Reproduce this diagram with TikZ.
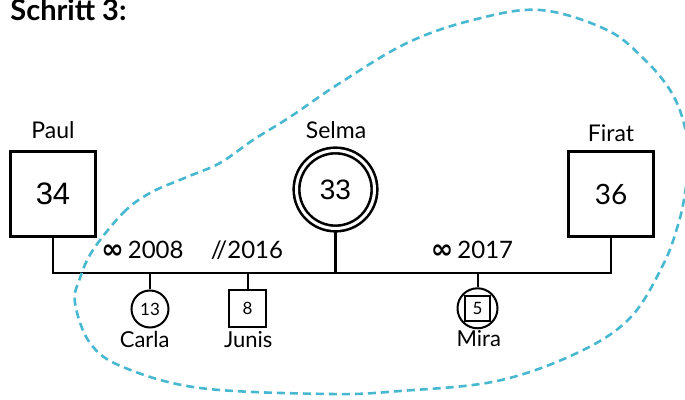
\documentclass[tikz,border=0pt]{standalone}
\usepackage{fontspec}
\setmainfont{Lato}
\newfontfamily\arialfont{Liberation Sans}
\newfontfamily\symfont{DejaVu Sans}
\usetikzlibrary{calc}
\definecolor{cluster}{RGB}{72,184,208}
\newcommand{\marr}{{\symfont\bfseries\fontsize{13.5}{13}\selectfont ∞}\,}
\tikzset{>=latex, person/.style = {draw, line width=1.4pt, inner sep=0pt},
		male/.style = {person, rectangle, minimum size=42.5pt},
		female/.style = {person, circle, double, double distance=1.5pt,
        line width=1.3pt, minimum size=39pt},
		kid/.style = {draw, line width=1pt, inner sep=0pt,
        font=\fontsize{8.5}{10}\selectfont},
		kidm/.style = {kid, rectangle, minimum size=18.5pt},
		kidf/.style = {kid, circle, minimum size=18.5pt},
		pname/.style = {anchor=base, inner sep=0pt,
        font=\fontsize{11.5}{14}\selectfont},
		kname/.style = {anchor=base, inner sep=0pt,
        font=\fontsize{11}{13}\selectfont},
		year/.style = {anchor=base, inner sep=0pt,
        font=\fontsize{12}{14}\selectfont}}

\begin{document}
\begin{tikzpicture}[x=0.5pt,y=-0.5pt]
    \useasboundingbox (0,0) rectangle (685,400);
    \node[anchor=base west, inner sep=0pt, font=\fontsize{14.5}{17}\bfseries] (title) at (10,21) {Schritt 3:};
    % parents
    \node[male, font=\arialfont\fontsize{15.5}{18}\selectfont] (paul) at (53,194) {34};
    \node[female, font=\arialfont\fontsize{14}{17}\selectfont] (selma) at (335.5,189.5) {33};
    \node[male, font=\fontsize{14}{17}\selectfont] (firat) at (611,194) {36};
    \node[pname] (paulname) at (53,139) {Paul};
    \node[pname] (selmaname) at (336,139) {Selma};
    \node[pname] (firatname) at (611,142) {Firat};
    % partnership line
    \coordinate (bar) at (0,273);
    \draw[line width=1.4pt] (paul) -- (paul |- bar) -- (firat |- bar) -- (firat);
    \draw[line width=1.4pt] (selma) -- (selma |- bar);
    \node[year] (m1) at (142.5,259) {\marr 2008};
    \node[year] (m2) at (247,259) {//2016};
    \node[year] (m3) at (472,259) {\marr 2017};
    % children
    \node[kidf] (carla) at (150,309) {13};
    \node[kidm] (junis) at (247.5,308.5) {8};
    \node[kidf, minimum size=20pt] (mira) at (477.5,308.3) {};
    \node[kidm, minimum size=12.7pt] (miraq) at (mira) {5};
    \draw[line width=1pt] (carla) -- (carla |- bar);
    \draw[line width=1pt] (junis) -- (junis |- bar);
    \draw[line width=1pt] (mira) -- (mira |- bar);
    \node[kname] (carlaname) at (144.7,348) {Carla};
    \node[kname] (junisname) at (248.3,348) {Junis};
    \node[kname] (miraname) at (478.8,347) {Mira};
    % system border
    \draw[cluster, line width=1.3pt, dash pattern=on 4pt off 2.5pt]
      plot[smooth cycle, tension=0.6] coordinates {(93,250) (123,213) (150,193)
      (187,177) (220,163) (253,140) (290,117) (340,83) (407,43) (473,20)
      (540,10) (607,30) (645,60) (670,90) (683,120) (689,155) (685,193)
      (678,225) (663,265) (630,318) (577,353) (497,381) (400,391) (330,394)
      (200,388) (123,367) (90,343) (75,303) (80,278)};
\end{tikzpicture}
\end{document}
